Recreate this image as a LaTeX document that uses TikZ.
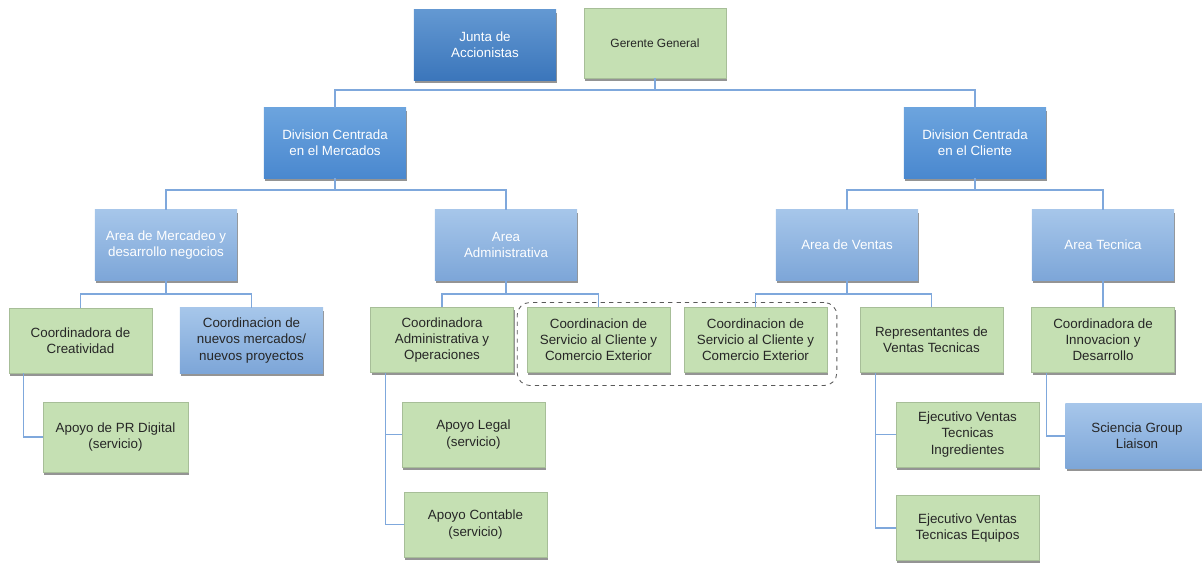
\documentclass[tikz,border=0pt]{standalone}
\usepackage{fontspec}
\setmainfont{Liberation Sans}
\usepackage{xcolor}
\usepackage{tikz}
\usetikzlibrary{positioning, shadows, fit}

\definecolor{orgdark}{HTML}{3B76BB}
\definecolor{orgdarktop}{HTML}{6398D2}
\definecolor{orgmid}{HTML}{4A88CF}
\definecolor{orgmidtop}{HTML}{6CA4DE}
\definecolor{orglight}{HTML}{7DA6D8}
\definecolor{orglighttop}{HTML}{A6C6EA}
\definecolor{orggreen}{HTML}{C5E0B3}
\definecolor{orgline}{HTML}{7FA8DC}

\begin{document}
\begin{tikzpicture}[
    x=0.025cm, y=-0.025cm,
    unit/.style={rectangle, minimum width=3.55cm, minimum height=1.75cm,
                 align=center, inner sep=2pt, font=\fontsize{9.5}{11.5}\selectfont,
                 drop shadow={shadow xshift=1pt, shadow yshift=-2pt,
                              opacity=0.6, fill=black!70}},
    board/.style={unit, top color=orgdarktop, bottom color=orgdark, text=white},
    division/.style={unit, top color=orgmidtop, bottom color=orgmid, text=white},
    area/.style={unit, top color=orglighttop, bottom color=orglight, text=white},
    coord/.style={unit, minimum width=3.575cm, minimum height=1.625cm,
                  fill=orggreen, draw=orggreen!85!black, line width=0.3pt, text=black!85},
    extern/.style={coord, top color=orglighttop, bottom color=orglight, draw=none},
    group/.style={draw=black!65, dashed, rounded corners=9pt, line width=0.6pt},
    link/.style={draw=orgline, line width=0.8pt},
]
    \useasboundingbox (0,0) rectangle (1202,563);

    % Top
    \node[board] (junta) at (485,45) {Junta de\\Accionistas};
    \node[coord, minimum width=3.55cm, minimum height=1.75cm,
          font=\fontsize{8.5}{10}\selectfont] (gerente) at (655,43) {Gerente General};

    % Divisions
    \node[division] (divmer) at (335,143) {Division Centrada\\en el Mercados};
    \node[division] (divcli) at (975,143) {Division Centrada\\en el Cliente};

    % Areas
    \node[area] (mercadeo) at (166,245) {Area de Mercadeo y\\desarrollo negocios};
    \node[area] (admin) at (506,245) {Area\\Administrativa};
    \node[area] (ventas) at (847,245) {Area de Ventas};
    \node[area] (tecnica) at (1103,245) {Area Tecnica};

    % Coordinations
    \node[coord] (creat) at (80.5,340.5) {Coordinadora de\\Creatividad};
    \node[extern] (nuevos) at (251.5,340.5) {Coordinacion de\\nuevos mercados/\\nuevos proyectos};
    \node[coord] (coordadm) at (442,340) {Coordinadora\\Administrativa y\\Operaciones};
    \node[coord] (serv1) at (598.5,340) {Coordinacion de\\Servicio al Cliente y\\Comercio Exterior};
    \node[coord] (serv2) at (755.5,340) {Coordinacion de\\Servicio al Cliente y\\Comercio Exterior};
    \node[coord] (repre) at (931.5,340) {Representantes de\\Ventas Tecnicas};
    \node[coord] (innov) at (1103,340) {Coordinadora de\\Innovacion y\\Desarrollo};

    % Support
    \node[coord, minimum width=3.625cm, minimum height=1.75cm] (prdig) at (115.5,437) {Apoyo de PR Digital\\(servicio)};
    \node[coord] (legal) at (473.5,434.5) {Apoyo Legal\\(servicio)};
    \node[coord] (contable) at (475.5,524.5) {Apoyo Contable\\(servicio)};
    \node[coord] (ingred) at (967.5,434.5) {Ejecutivo Ventas\\Tecnicas\\Ingredientes};
    \node[coord] (equipos) at (967.5,528) {Ejecutivo Ventas\\Tecnicas Equipos};
    \node[extern, minimum height=1.6cm] (sciencia) at (1137,436) {Sciencia Group\\Liaison};

    % Shared unit
    \node[group, fit=(serv1)(serv2), inner xsep=0.24cm, inner ysep=0.22cm, yshift=-0.1cm] (shared) {};

    % Buses
    \coordinate (bus0) at (0,90);
    \coordinate (bus1) at (0,190);
    \coordinate (bus2) at (0,294);

    % Links
    \draw[link] (gerente.south) -- (gerente.south |- bus0);
    \draw[link] (divmer.north) -- (divmer.north |- bus0) -- (divcli.north |- bus0) -- (divcli.north);
    \draw[link] (divmer.south) -- (divmer.south |- bus1);
    \draw[link] (mercadeo.north) -- (mercadeo.north |- bus1) -- (admin.north |- bus1) -- (admin.north);
    \draw[link] (divcli.south) -- (divcli.south |- bus1);
    \draw[link] (ventas.north) -- (ventas.north |- bus1) -- (tecnica.north |- bus1) -- (tecnica.north);
    \draw[link] (mercadeo.south) -- (mercadeo.south |- bus2);
    \draw[link] (creat.north) -- (creat.north |- bus2) -- (nuevos.north |- bus2) -- (nuevos.north);
    \draw[link] (admin.south) -- (admin.south |- bus2);
    \draw[link] (coordadm.north) -- (coordadm.north |- bus2) -- (serv1.north |- bus2) -- (serv1.north);
    \draw[link] (ventas.south) -- (ventas.south |- bus2);
    \draw[link] (serv2.north) -- (serv2.north |- bus2) -- (repre.north |- bus2) -- (repre.north);
    \draw[link] (tecnica.south) -- (innov.north);
    \draw[link] ([xshift=0.375cm]creat.south west) |- (prdig.west);
    \draw[link] ([xshift=0.375cm]coordadm.south west) |- (legal.west);
    \draw[link] ([xshift=0.375cm]coordadm.south west) |- (contable.west);
    \draw[link] ([xshift=0.4cm]repre.south west) |- (ingred.west);
    \draw[link] ([xshift=0.4cm]repre.south west) |- (equipos.west);
    \draw[link] ([xshift=0.375cm]innov.south west) |- (sciencia.west);
\end{tikzpicture}
\end{document}
